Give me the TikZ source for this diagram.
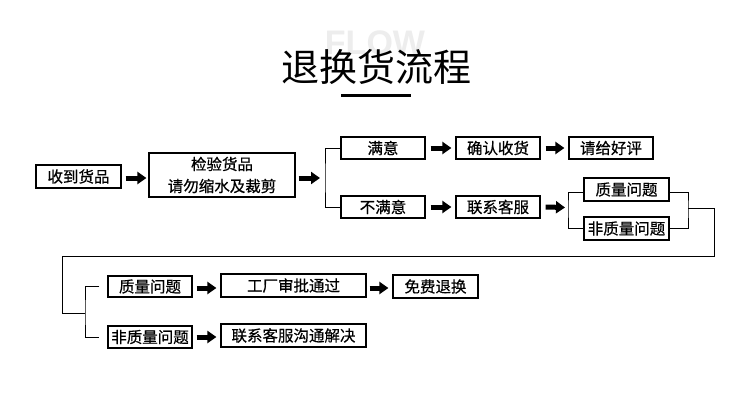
\documentclass[tikz,border=0pt]{standalone}
\usepackage{fontspec}
\newfontfamily\cjk{Noto Sans CJK SC}
\newfontfamily\cjkm{Noto Sans CJK SC}[FakeBold=0.6]
\newfontfamily\flowfont{Liberation Sans}[BoldFont={Liberation Sans Bold}]
\usetikzlibrary{arrows.meta}
\begin{document}
\begin{tikzpicture}[x=1pt,y=-1pt,
  box/.style={draw=black,line width=1.2pt,inner sep=0pt,anchor=center,
    font=\cjkm\fontsize{15.5}{22}\selectfont},
  blk/.style={line width=5pt,-{Triangle[length=9pt,width=12pt]}},
  conn/.style={draw=black,line width=1pt}]
\useasboundingbox (0,0) rectangle (750,407);
\fill[white] (0,0) rectangle (750,407);
% title
\node[font=\flowfont\bfseries\fontsize{34}{34}\selectfont,text=black!7,anchor=center] (flow) at (375,43) {FLOW};
\node[font=\cjk\fontsize{38}{38}\selectfont,anchor=center] (title) at (376,67) {退换货流程};
\fill[black] (341,93.5) rectangle (411,97);
% row 1
\node[box,minimum width=85pt,minimum height=23pt] (sd) at (78.5,176.5) {收到货品};
\node[box,minimum width=146pt,minimum height=44pt,align=center] (jy) at (222,175) {检验货品\\请勿缩水及裁剪};
\coordinate (br1) at (325,178);
\node[box,minimum width=84pt,minimum height=22pt] (my) at (383,148) {满意};
\node[box,minimum width=84pt,minimum height=22pt] (qr) at (498,148) {确认收货};
\node[box,minimum width=84pt,minimum height=22pt] (hp) at (611,148) {请给好评};
\node[box,minimum width=84pt,minimum height=22pt] (bmy) at (383,207) {不满意};
\node[box,minimum width=84pt,minimum height=22pt] (kf) at (498,207) {联系客服};
\coordinate (br2) at (568,207.5);
\node[box,minimum width=85pt,minimum height=23pt] (zl1) at (626.5,189.5) {质量问题};
\node[box,minimum width=85pt,minimum height=23pt] (fzl1) at (626.5,228.5) {非质量问题};
\coordinate (br3) at (688,208);
\coordinate (c1) at (714,256);
\coordinate (c2) at (62,256);
\coordinate (br4) at (85,313);
% row 2
\node[box,minimum width=84pt,minimum height=21pt] (zl2) at (150,286.5) {质量问题};
\node[box,minimum width=84pt,minimum height=22pt] (fzl2) at (150,337) {非质量问题};
\node[box,minimum width=145pt,minimum height=23pt] (gc) at (293.5,285.5) {工厂审批通过};
\node[box,minimum width=85pt,minimum height=23pt] (mf) at (435.5,286.5) {免费退换};
\node[box,minimum width=145pt,minimum height=23pt] (gt) at (293.5,335.5) {联系客服沟通解决};
% arrows
\draw[blk] ([xshift=4pt]sd.east |- 0,178) -- ([xshift=-2pt]jy.west |- 0,178);
\draw[blk] ([xshift=3pt]jy.east |- 0,178) -- ([xshift=-5pt]br1);
\draw[blk] ([xshift=5pt]my.east) -- ([xshift=-4pt]qr.west);
\draw[blk] ([xshift=5pt]qr.east) -- ([xshift=-4pt]hp.west);
\draw[blk] ([xshift=5pt]bmy.east) -- ([xshift=-4pt]kf.west);
\draw[blk] ([xshift=5pt]kf.east) -- ([xshift=-3pt]br2);
\draw[blk] ([xshift=4pt]zl2.east |- 0,288) -- ([xshift=-4pt]gc.west |- 0,288);
\draw[blk] ([xshift=3pt]gc.east |- 0,288) -- ([xshift=-4pt]mf.west |- 0,288);
\draw[blk] ([xshift=4pt]fzl2.east) -- ([xshift=-4pt]gt.west |- fzl2.east);
% brackets
\draw[conn] (my.west) -| (br1) |- (bmy.west);
\draw[conn] ([yshift=-2.5pt]zl1.west) -| (br2) |- (fzl1.west);
\draw[conn] ([yshift=-2.5pt]zl1.east) -| (br3) |- (fzl1.east);
\draw[conn] (br3) -| (c1) -- (c2) |- (br4);
\draw[conn] ([xshift=-8pt]zl2.west) -| (br4) |- ([xshift=-8pt]fzl2.west);
\end{tikzpicture}
\end{document}
